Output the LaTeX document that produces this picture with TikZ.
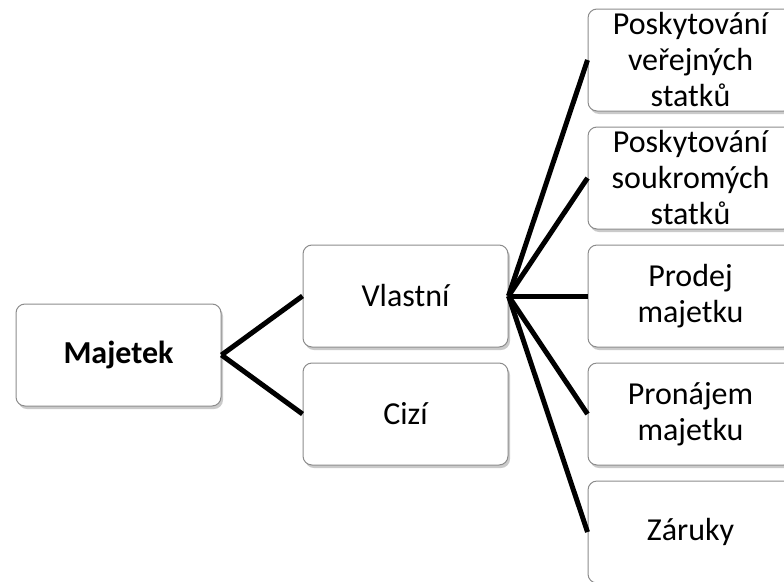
\documentclass[tikz,border=0pt]{standalone}
\usepackage{fontspec}
\setmainfont{Carlito}
\usetikzlibrary{positioning,shadows}
\tikzstyle{box}  =[draw=black!45, fill=white, rounded corners=9pt,
                   line width=1pt, minimum width=205pt,
                   minimum height=102pt, align=center,
                   font=\fontsize{32}{36}\selectfont,
                   drop shadow={shadow xshift=2pt, shadow yshift=-3pt,
                                opacity=0.35, fill=black!60}]
\tikzstyle{edge} =[line width=5pt, draw=black]
\begin{document}
\begin{tikzpicture}[x=1pt, y=-1pt, node distance=118pt, on grid]
            \useasboundingbox (0,0) rectangle (784,581);
            \clip (0,0) rectangle (784,581);
            \node (maj) [box] at (118.5,355) {\textbf{Majetek}};
            \node (vl) [box] at (405.5,296) {Vlastní};
            \node (ci) [box] at (405.5,414) {Cizí};
            \node (p1) [box] at (690.5,60) {Poskytování\\veřejných\\statků};
            \node (p2) [box, below= of p1] {Poskytování\\soukromých\\statků};
            \node (p3) [box, below= of p2] {Prodej\\majetku};
            \node (p4) [box, below= of p3] {Pronájem\\majetku};
            \node (p5) [box, below= of p4] {Záruky};
            \draw[edge] (maj.east) -- (vl.west);
            \draw[edge] (maj.east) -- (ci.west);
            \draw[edge] (vl.east) -- (p1.west);
            \draw[edge] (vl.east) -- (p2.west);
            \draw[edge] (vl.east) -- (p3.west);
            \draw[edge] (vl.east) -- (p4.west);
            \draw[edge] (vl.east) -- (p5.west);
        \end{tikzpicture}
\end{document}
